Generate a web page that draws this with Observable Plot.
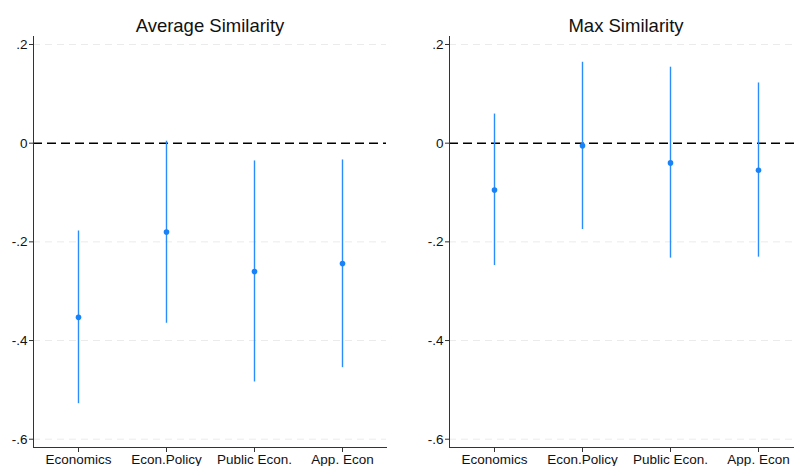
<!DOCTYPE html>
<html>
<head>
<meta charset="utf-8">
<script src="https://cdn.jsdelivr.net/npm/d3@7"></script>
<script src="https://cdn.jsdelivr.net/npm/@observablehq/plot@0.6"></script>
<style>
  body { margin: 0; background: #fff; overflow: hidden; }
  #wrap { position: relative; width: 794px; height: 466px; overflow: hidden; background: #fff; }
  .panel { position: absolute; top: 0; }
  .panel svg { max-width: none !important; }
</style>
</head>
<body>
<div id="wrap"></div>
<script>
// Field categories shared by both panels
const categories = ["Economics", "Econ.Policy", "Public Econ.", "App. Econ"];

// Average similarity: point estimates and confidence bounds
const avgEstimate = [-0.353, -0.180, -0.260, -0.244];
const avgLower    = [-0.528, -0.365, -0.484, -0.455];
const avgUpper    = [-0.178,  0.004, -0.036, -0.034];

// Max similarity: point estimates and confidence bounds
const maxEstimate = [-0.095, -0.005, -0.040, -0.055];
const maxLower    = [-0.248, -0.175, -0.233, -0.231];
const maxUpper    = [ 0.059,  0.164,  0.154,  0.122];

const yTicks = [0.2, 0, -0.2, -0.4, -0.6];
const panelTitles = ["Average Similarity", "Max Similarity"];

const font = "Arial, 'Liberation Sans', Helvetica, sans-serif";
const fmt = d => d === 0 ? "0" : d.toFixed(1).replace("0.", ".");

function panel(title, est, lo, hi, width, marginRight) {
  const rows = categories.map((c, i) => ({cat: c, est: est[i], lo: lo[i], hi: hi[i]}));
  return Plot.plot({
    width,
    height: 466,
    marginLeft: 33,
    marginRight,
    marginTop: 36,
    marginBottom: 19,
    style: {fontFamily: font, fontSize: "13.5px", color: "#111", background: "transparent", overflow: "visible", maxWidth: "none"},
    x: {type: "point", domain: categories, padding: 0.5, label: null},
    y: {domain: [-0.6168, 0.2162], label: null},
    marks: [
      Plot.ruleY(yTicks.filter(d => d !== 0), {stroke: "#ebebeb", strokeDasharray: "7,5", strokeWidth: 1}),
      Plot.ruleY([0], {stroke: "#000", strokeDasharray: "9,5", strokeWidth: 1.5}),
      Plot.ruleX(rows, {x: "cat", y1: "lo", y2: "hi", stroke: "#2b8cfb", strokeWidth: 1.4}),
      Plot.dot(rows, {x: "cat", y: "est", r: 2.8, fill: "#1a82f7", stroke: "none"}),
      Plot.frame({anchor: "left", stroke: "#333", strokeWidth: 1}),
      Plot.frame({anchor: "bottom", stroke: "#333", strokeWidth: 1}),
      Plot.axisY({ticks: yTicks, tickFormat: fmt, tickSize: 4, tickPadding: 2, stroke: "#333", label: null, fontSize: 13.5}),
      Plot.axisX({tickSize: 5, tickPadding: 2, stroke: "#333", label: null, fontSize: 13.5}),
      Plot.text([title], {frameAnchor: "top", lineAnchor: "bottom", dy: -5, fontSize: 18.5, fill: "#111"})
    ]
  });
}

const wrap = document.getElementById("wrap");
const configs = [
  {title: panelTitles[0], est: avgEstimate, lo: avgLower, hi: avgUpper, left: 0, width: 397, mr: 11},
  {title: panelTitles[1], est: maxEstimate, lo: maxLower, hi: maxUpper, left: 416, width: 386, mr: 0}
];
for (const c of configs) {
  const div = document.createElement("div");
  div.className = "panel";
  div.style.left = c.left + "px";
  div.style.width = c.width + "px";
  div.appendChild(panel(c.title, c.est, c.lo, c.hi, c.width, c.mr));
  wrap.appendChild(div);
}
</script>
</body>
</html>
